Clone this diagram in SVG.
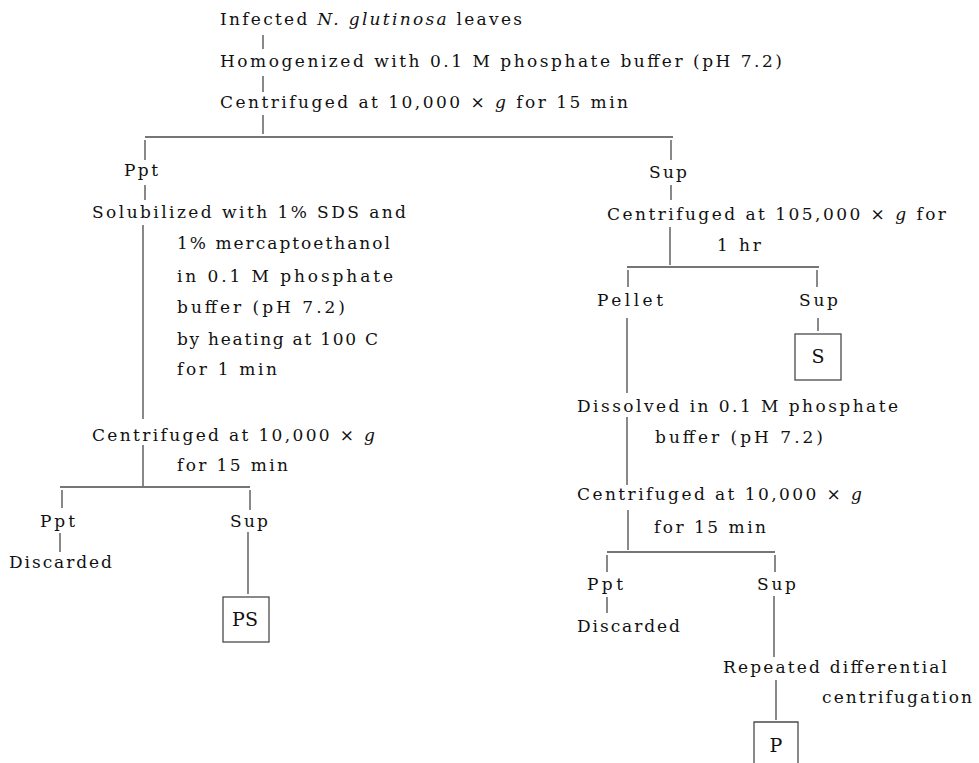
<svg xmlns="http://www.w3.org/2000/svg" width="979" height="763" viewBox="0 0 979 763">
<style>
text{font-family:"DejaVu Serif","Liberation Serif",serif;font-size:17px;fill:#111;}
.i{font-style:italic;}
.m{text-anchor:middle;font-size:19px;}
.c path{stroke:#4a4a4a;stroke-width:1.3;fill:none;}
.box{stroke:#4a4a4a;stroke-width:1.3;fill:none;}
</style>
<rect width="979" height="763" fill="#fff"/>
<g id="connectors" class="c">
<path d="M263,35V49M263,76V92M263,115V134M145,137H673"/>
<path d="M145,140V160M145,185V200M143,225V419M143,445V486M60,487H250M62,490V508M250,490V510M60,533V552M248,532V594"/>
<path d="M671,140V160M671,185V200M670,227V265M627,267H819M628,270V287M817,270V287M627,318V393M818,318V331M627,417V485M628,510V550M607,552H775M607,555V572M775,555V572M607,597V613M774,596V657M776,680V720"/>
</g>
<g id="n-leaves"><text x="220" y="25" textLength="302" lengthAdjust="spacing">Infected <tspan class="i">N. glutinosa</tspan> leaves</text></g>
<g id="n-homogenized"><text x="220" y="67" textLength="562" lengthAdjust="spacing">Homogenized with 0.1 M phosphate buffer (pH 7.2)</text></g>
<g id="n-centrifuge1"><text x="220" y="108" textLength="408" lengthAdjust="spacing">Centrifuged at 10,000 × <tspan class="i">g</tspan> for 15 min</text></g>
<g id="n-ppt1"><text x="124" y="176" textLength="34" lengthAdjust="spacing">Ppt</text></g>
<g id="n-sup1"><text x="649" y="178" textLength="38" lengthAdjust="spacing">Sup</text></g>
<g id="n-solubilized">
<text x="92" y="218" textLength="314" lengthAdjust="spacing">Solubilized with 1% SDS and</text>
<text x="177" y="249" textLength="213" lengthAdjust="spacing">1% mercaptoethanol</text>
<text x="177" y="282" textLength="216" lengthAdjust="spacing">in 0.1 M phosphate</text>
<text x="177" y="313" textLength="168" lengthAdjust="spacing">buffer (pH 7.2)</text>
<text x="177" y="345" textLength="201" lengthAdjust="spacing">by heating at 100 C</text>
<text x="177" y="375" textLength="100" lengthAdjust="spacing">for 1 min</text>
</g>
<g id="n-centrifuge2">
<text x="92" y="441" textLength="283" lengthAdjust="spacing">Centrifuged at 10,000 × <tspan class="i">g</tspan></text>
<text x="177" y="471" textLength="111" lengthAdjust="spacing">for 15 min</text>
</g>
<g id="n-ppt2"><text x="40" y="527" textLength="35" lengthAdjust="spacing">Ppt</text></g>
<g id="n-discarded1"><text x="9" y="568" textLength="103" lengthAdjust="spacing">Discarded</text></g>
<g id="n-sup2"><text x="230" y="527" textLength="38" lengthAdjust="spacing">Sup</text></g>
<g id="n-ps"><rect class="box" x="223" y="597" width="46" height="45"/><text class="m" x="245" y="626">PS</text></g>
<g id="n-centrifuge3">
<text x="607" y="220" textLength="339" lengthAdjust="spacing">Centrifuged at 105,000 × <tspan class="i">g</tspan> for</text>
<text x="717" y="251" textLength="44" lengthAdjust="spacing">1 hr</text>
</g>
<g id="n-pellet"><text x="597" y="306" textLength="66" lengthAdjust="spacing">Pellet</text></g>
<g id="n-sup3"><text x="799" y="306" textLength="39" lengthAdjust="spacing">Sup</text></g>
<g id="n-s"><rect class="box" x="795" y="334" width="46" height="46"/><text class="m" x="818" y="363">S</text></g>
<g id="n-dissolved">
<text x="577" y="412" textLength="321" lengthAdjust="spacing">Dissolved in 0.1 M phosphate</text>
<text x="655" y="443" textLength="168" lengthAdjust="spacing">buffer (pH 7.2)</text>
</g>
<g id="n-centrifuge4">
<text x="577" y="500" textLength="285" lengthAdjust="spacing">Centrifuged at 10,000 × <tspan class="i">g</tspan></text>
<text x="654" y="533" textLength="112" lengthAdjust="spacing">for 15 min</text>
</g>
<g id="n-ppt3"><text x="587" y="590" textLength="36" lengthAdjust="spacing">Ppt</text></g>
<g id="n-discarded2"><text x="577" y="632" textLength="103" lengthAdjust="spacing">Discarded</text></g>
<g id="n-sup4"><text x="757" y="590" textLength="39" lengthAdjust="spacing">Sup</text></g>
<g id="n-repeated">
<text x="723" y="673" textLength="224" lengthAdjust="spacing">Repeated differential</text>
<text x="822" y="703" textLength="150" lengthAdjust="spacing">centrifugation</text>
</g>
<g id="n-p"><path class="box" d="M754,763V722H798V763"/><text class="m" x="776" y="752">P</text></g>
</svg>
